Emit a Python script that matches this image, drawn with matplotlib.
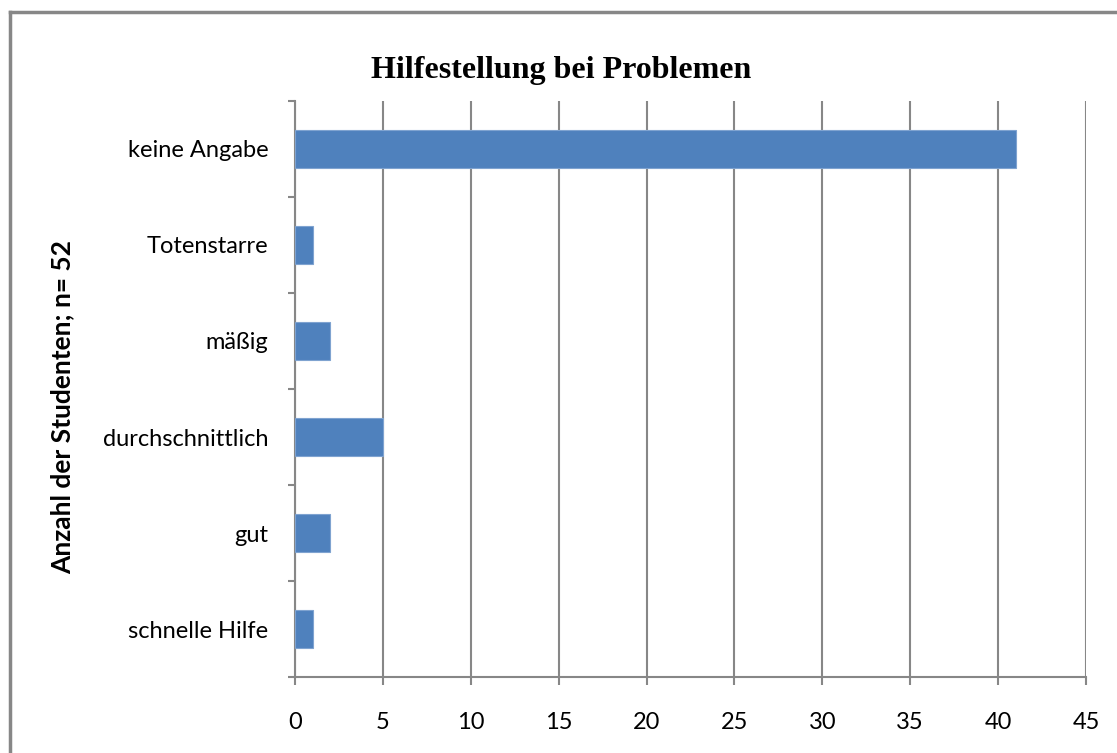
import matplotlib.pyplot as plt
from matplotlib.lines import Line2D

# Antworten zur Hilfestellung, von unten nach oben
kategorien = ['schnelle Hilfe', 'gut', 'durchschnittlich', 'mäßig', 'Totenstarre', 'keine Angabe']
anzahl = [1, 2, 5, 2, 1, 41]
x_ticks = list(range(0, 50, 5))

grau = '#878787'

fig = plt.figure(figsize=(11.17, 7.53), dpi=100)
ax = fig.add_axes([0.2641, 0.1009, 0.7081, 0.765])

pos = list(range(len(kategorien)))
ax.barh(pos, anzahl, height=0.4, color='#4F81BD', edgecolor='#7FA3D0', linewidth=0.8, zorder=3)

ax.set_xlim(0, 45)
ax.set_ylim(-0.5, len(kategorien) - 0.5)
ax.set_xticks(x_ticks)
ax.set_yticks(pos)
ax.set_yticklabels(kategorien)
# Teilstriche zwischen den Kategorien
ax.set_yticks([p - 0.5 for p in pos] + [len(kategorien) - 0.5], minor=True)

ax.grid(axis='x', color=grau, linewidth=1.5, zorder=0)
for s in ['top', 'right']:
    ax.spines[s].set_visible(False)
for s in ['left', 'bottom']:
    ax.spines[s].set_color(grau)
    ax.spines[s].set_linewidth(1.5)

ax.tick_params(axis='y', which='major', length=0, pad=19, labelsize=17)
ax.tick_params(axis='y', which='minor', length=5, width=1.5, color=grau)
ax.tick_params(axis='x', length=6, width=1.5, color=grau, pad=19, labelsize=17)
for lab in ax.get_xticklabels() + ax.get_yticklabels():
    lab.set_fontfamily('Lato')

fig.text(0.502, 0.907, 'Hilfestellung bei Problemen', ha='center', va='center',
         fontsize=23, fontweight='bold', family='Liberation Serif')
fig.text(0.0555, 0.459, 'Anzahl der Studenten; n= 52', rotation=90, ha='center', va='center',
         fontsize=19, fontweight='bold', family='Lato')

# Rahmen um das Diagramm
fig.add_artist(Line2D([0.0091, 0.0091], [0, 0.984], color=grau, linewidth=2.5, transform=fig.transFigure))
fig.add_artist(Line2D([0.0091, 1], [0.984, 0.984], color=grau, linewidth=2.5, transform=fig.transFigure))

fig.savefig('out.png', dpi=100)
